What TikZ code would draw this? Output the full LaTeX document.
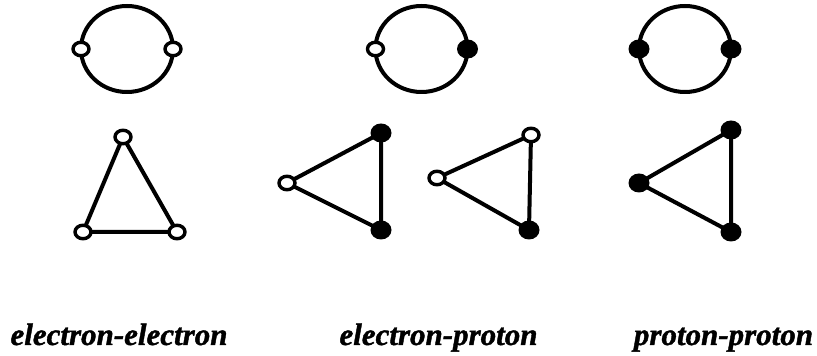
\documentclass[tikz,border=0pt]{standalone}
\usepackage{fontspec}
\setmainfont{Liberation Serif}
\newfontface\capfont{Liberation Serif Bold Italic}[FakeBold=1.3]
\usetikzlibrary{shapes.geometric,backgrounds}

\tikzset{
  edge/.style={line width=4pt, line join=round},
  opendot/.style={ellipse, draw, line width=3.4pt, fill=white, inner sep=0pt,
    minimum width=16pt, minimum height=13.5pt},
  fulldot/.style={ellipse, fill=black, inner sep=0pt,
    minimum width=21pt, minimum height=19pt},
  caption/.style={anchor=base, font=\fontsize{31}{36}\selectfont\capfont}
}

\begin{document}
\begin{tikzpicture}[x=1pt, y=1pt]
\useasboundingbox (0,0) rectangle (817,356);

% loop diagrams: two vertices on a closed line
\node[opendot] (c1l) at (81,307) {};
\node[opendot] (c1r) at (173,307) {};
\node[opendot] (c2l) at (375.5,307) {};
\node[fulldot] (c2r) at (467.5,307) {};
\node[fulldot] (c3l) at (639,307) {};
\node[fulldot] (c3r) at (731,307) {};

% triangle diagrams: three vertices
\node[opendot] (t1a) at (123,219) {};
\node[opendot] (t1b) at (83,124) {};
\node[opendot] (t1c) at (177,124) {};

\node[opendot] (t2a) at (287,173) {};
\node[fulldot] (t2b) at (381,223) {};
\node[fulldot] (t2c) at (381,126) {};

\node[opendot] (t3a) at (437,178) {};
\node[opendot] (t3b) at (531,221) {};
\node[fulldot] (t3c) at (529,126) {};

\node[fulldot] (t4a) at (639,173) {};
\node[fulldot] (t4b) at (731,226) {};
\node[fulldot] (t4c) at (731,124) {};

\begin{scope}[on background layer]
  \draw[edge] (c1l.center) arc[start angle=180, end angle=-180, x radius=46, y radius=43];
  \draw[edge] (c2l.center) arc[start angle=180, end angle=-180, x radius=46, y radius=43];
  \draw[edge] (c3l.center) arc[start angle=180, end angle=-180, x radius=46, y radius=43];
  \draw[edge] (t1a.center) -- (t1b.center) -- (t1c.center) -- cycle;
  \draw[edge] (t2a.center) -- (t2b.center) -- (t2c.center) -- cycle;
  \draw[edge] (t3a.center) -- (t3b.center) -- (t3c.center) -- cycle;
  \draw[edge] (t4a.center) -- (t4b.center) -- (t4c.center) -- cycle;
\end{scope}

% captions
\node[caption] (lee) at (119,11) {electron-electron};
\node[caption] (lep) at (438.5,11) {electron-proton};
\node[caption] (lpp) at (723.5,11) {proton-proton};
\end{tikzpicture}
\end{document}
